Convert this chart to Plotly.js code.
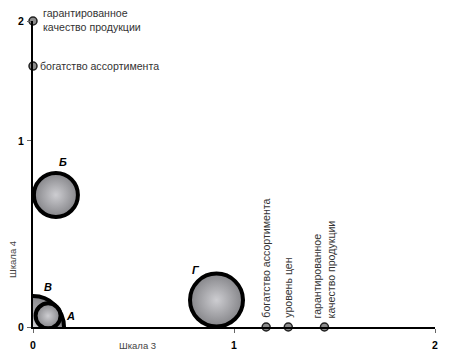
<!DOCTYPE html>
<html><head><meta charset="utf-8">
<script src="https://cdn.plot.ly/plotly-3.0.1.min.js"></script>
<style>body{margin:0;background:#fff}#c{width:450px;height:361px}</style>
</head><body><div id="c"></div>
<script>
// Bubbles (positions in axis units of Шкала 3 / Шкала 4 display scale)
const bubbleNames = ['Б', 'В', 'А', 'Г'];
const bubbleX = [0.114, 0.0, 0.075, 0.913];
const bubbleY = [0.71, 0.0, 0.06, 0.145];
const bubbleSize = [44, 62, 25, 53];
const bubbleLabelShiftX = [7, 15, 22, -21];
const bubbleLabelShiftY = [33, 40, 0, 30];

// Points on Шкала 4 (y axis)
const yPointLabels = ['гарантированное<br>качество продукции', 'богатство ассортимента'];
const yPointValues = [1.645, 1.403];

// Points on Шкала 3 (x axis)
const xPointLabels = ['богатство ассортимента', 'уровень цен', 'гарантированное<br>качество продукции'];
const xPointValues = [1.16, 1.27, 1.45];

// Tick labels
const xTickVals = [0, 1, 2];
const xTickText = ['0', '1', '2'];
const yTickVals = [0, 1, 1.645];
const yTickText = ['0', '1', '2'];

const FAM = 'Liberation Sans, Arial, sans-serif';
const textFont = {family: FAM, size: 10.6, color: '#333'};

const traces = [
  {
    type: 'scatter', mode: 'markers',
    x: bubbleX, y: bubbleY,
    cliponaxis: true,
    marker: {
      size: bubbleSize, color: '#858589', opacity: 1,
      gradient: {type: 'radial', color: '#cdcdd1'},
      line: {color: '#000', width: 4}
    },
    hoverinfo: 'skip'
  },
  {
    type: 'scatter', mode: 'markers',
    x: yPointValues.map(() => 0), y: yPointValues,
    cliponaxis: false,
    marker: {size: 8, color: '#8c8c8c', opacity: 1, line: {color: '#222', width: 1.5}},
    hoverinfo: 'skip'
  },
  {
    type: 'scatter', mode: 'markers',
    x: xPointValues, y: xPointValues.map(() => 0),
    cliponaxis: false,
    marker: {size: 8, color: '#8c8c8c', opacity: 1, line: {color: '#222', width: 1.5}},
    hoverinfo: 'skip'
  }
];

const annotations = [];
bubbleNames.forEach((n, i) => {
  annotations.push({
    x: bubbleX[i], y: bubbleY[i], xref: 'x', yref: 'y',
    text: '<b><i>' + n + '</i></b>', showarrow: false,
    xshift: bubbleLabelShiftX[i], yshift: bubbleLabelShiftY[i],
    font: {family: FAM, size: 11, color: '#000'}
  });
});
yPointLabels.forEach((t, i) => {
  annotations.push({
    x: 0, y: yPointValues[i], xref: 'x', yref: 'y',
    text: t, showarrow: false, xanchor: 'left', align: 'left',
    xshift: i === 0 ? 8 : 5, yshift: i === 0 ? 1 : 0,
    font: textFont
  });
});
xPointLabels.forEach((t, i) => {
  annotations.push({
    x: xPointValues[i], y: 0, xref: 'x', yref: 'y',
    text: t, showarrow: false, textangle: -90, yanchor: 'bottom', align: 'left',
    xshift: i === 2 ? 0 : -1, yshift: 7,
    font: textFont
  });
});
const L = 33, R = 15, T = 21, B = 34, W = 450, H = 361;
const px2paperX = p => (p - L) / (W - L - R);
const px2paperY = p => (H - B - p) / (H - T - B);
annotations.push({
  x: px2paperX(12), y: px2paperY(260), xref: 'paper', yref: 'paper',
  xanchor: 'center', yanchor: 'middle',
  text: 'Шкала 4', showarrow: false, textangle: -90,
  font: {family: FAM, size: 9.5, color: '#444'}
});
annotations.push({
  x: px2paperX(137), y: px2paperY(345), xref: 'paper', yref: 'paper',
  xanchor: 'center', yanchor: 'middle',
  text: 'Шкала 3', showarrow: false,
  font: {family: FAM, size: 9.5, color: '#444'}
});

const layout = {
  width: W, height: H,
  margin: {l: L, r: R, t: T, b: B},
  paper_bgcolor: '#fff', plot_bgcolor: '#fff',
  showlegend: false,
  xaxis: {
    range: [0, 2], tickvals: xTickVals, ticktext: xTickText,
    showgrid: false, zeroline: false, showline: true, linecolor: '#000', linewidth: 2,
    ticks: 'outside', ticklen: 4, tickcolor: '#666', tickwidth: 1,
    ticklabelstandoff: 3,
    tickfont: {family: FAM, size: 10.5, color: '#000', weight: 'bold'},
    fixedrange: true
  },
  yaxis: {
    range: [0, 1.645], tickvals: yTickVals, ticktext: yTickText,
    showgrid: false, zeroline: false, showline: true, linecolor: '#000', linewidth: 2,
    ticks: 'outside', ticklen: 4, tickcolor: '#666', tickwidth: 1,
    ticklabelstandoff: 1,
    tickfont: {family: FAM, size: 10.5, color: '#000', weight: 'bold'},
    fixedrange: true
  },
  annotations: annotations
};

Plotly.newPlot('c', traces, layout, {displayModeBar: false, staticPlot: true});
</script>
</body></html>
